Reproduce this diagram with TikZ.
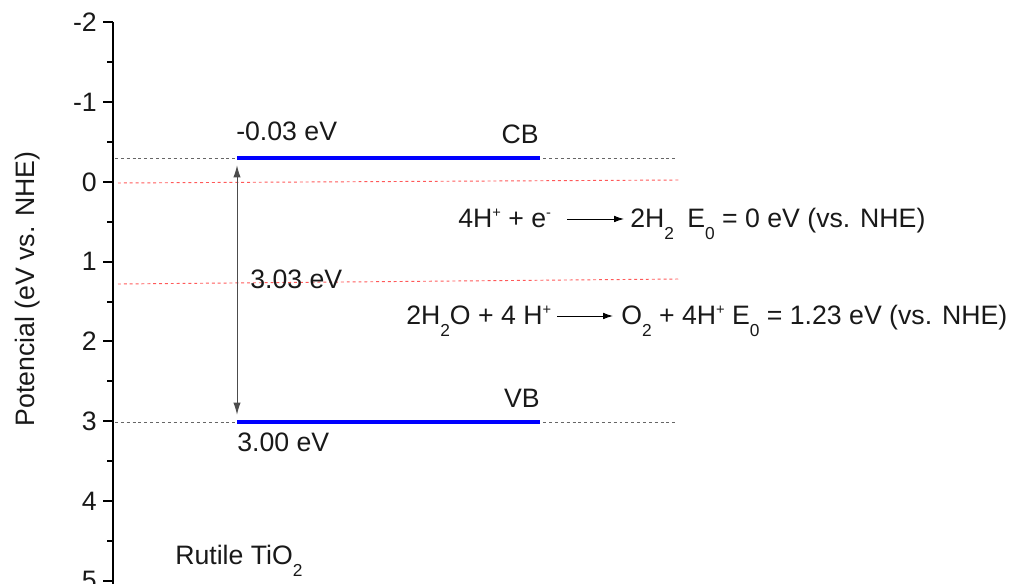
\documentclass[tikz,border=0pt]{standalone}
\usepackage{fontspec}
\setmainfont{Liberation Sans}
\usetikzlibrary{arrows.meta}
\newcommand{\mysup}[1]{\raisebox{8pt}{\fontsize{11}{11}\selectfont #1}}
\newcommand{\mysub}[1]{\raisebox{-8.5pt}{\fontsize{13}{13}\selectfont #1}}
\begin{document}
\begin{tikzpicture}[x=0.75pt,y=-0.75pt,
  font=\fontsize{20}{24}\selectfont,
  txt/.style={inner sep=0pt,text=black!90},
  level/.style={line width=3pt,blue},
  guide/.style={line width=0.7pt,black!60,dash pattern=on 2.2pt off 2.2pt},
  redguide/.style={line width=0.7pt,red!65,dash pattern=on 2.2pt off 2.2pt},
  rxn/.style={line width=0.7pt,-{Latex[length=7.5pt,width=5pt]}},
  gap/.style={line width=0.7pt,black!70,{Latex[length=9pt,width=5.5pt]}-{Latex[length=9pt,width=5.5pt]}}]
\useasboundingbox (0,0) rectangle (1011,584);
% axis
\draw[line width=1.5pt] (113,22) -- (113,586);
\foreach \v in {-2,...,5}{
  \draw[line width=1.5pt] (113,{182+79.75*\v}) -- ++(-10,0);
  \node[txt,anchor=east] at (97,{182+79.75*\v}) {\v};
}
\foreach \v in {-1.5,-0.5,0.5,1.5,2.5,3.5,4.5}{
  \draw[line width=1.5pt] (113,{182+79.75*\v}) -- ++(-6,0);
}
\node[txt,rotate=90,anchor=base] (ylab) at (34,289) {Potencial (eV vs. NHE)};
% guides
\draw[guide] (115,158) -- (678,158);
\draw[guide] (115,422) -- (678,422);
\draw[redguide] (118,183) -- (680,180);
\draw[redguide] (118,284) -- (680,279);
% levels
\coordinate (cbL) at (237,158);
\coordinate (cbR) at (540,158);
\coordinate (vbL) at (237,422);
\coordinate (vbR) at (540,422);
\draw[level] (cbL) -- (cbR);
\draw[level] (vbL) -- (vbR);
\draw[gap] ([yshift=-5.5pt]cbL) -- ([yshift=5.5pt]vbL);
% labels
\node[txt,anchor=base west] (cbv) at (236,141) {-0.03 eV};
\node[txt,anchor=base east] (cb) at (539,144) {CB};
\node[txt,anchor=base east] (vb) at (540,408) {VB};
\node[txt,anchor=base west] (vbv) at (237,452) {3.00 eV};
\node[txt,anchor=base west] (gapv) at (250,289) {3.03 eV};
\node[txt,anchor=base west] (rut) at (175,565) {Rutile TiO\mysub{2}};
% reaction 1
\node[txt,anchor=base west] (r1l) at (458,228) {4H\mysup{+} + e\mysup{-}};
\node[txt,anchor=base west] (r1r) at (630,228) {2H\mysub{2}\enspace E\mysub{0} = 0 eV (vs. NHE)};
\coordinate (a1s) at (567,219);
\coordinate (a1e) at (624,219);
\draw[rxn] (a1s) -- (a1e);
% reaction 2
\node[txt,anchor=base west] (r2l) at (406,325) {2H\mysub{2}O + 4 H\mysup{+}};
\node[txt,anchor=base west] (r2r) at (621,325) {O\mysub{2} + 4H\mysup{+} E\mysub{0} = 1.23 eV (vs. NHE)};
\coordinate (a2s) at (557,316);
\coordinate (a2e) at (613,316);
\draw[rxn] (a2s) -- (a2e);
\end{tikzpicture}
\end{document}
